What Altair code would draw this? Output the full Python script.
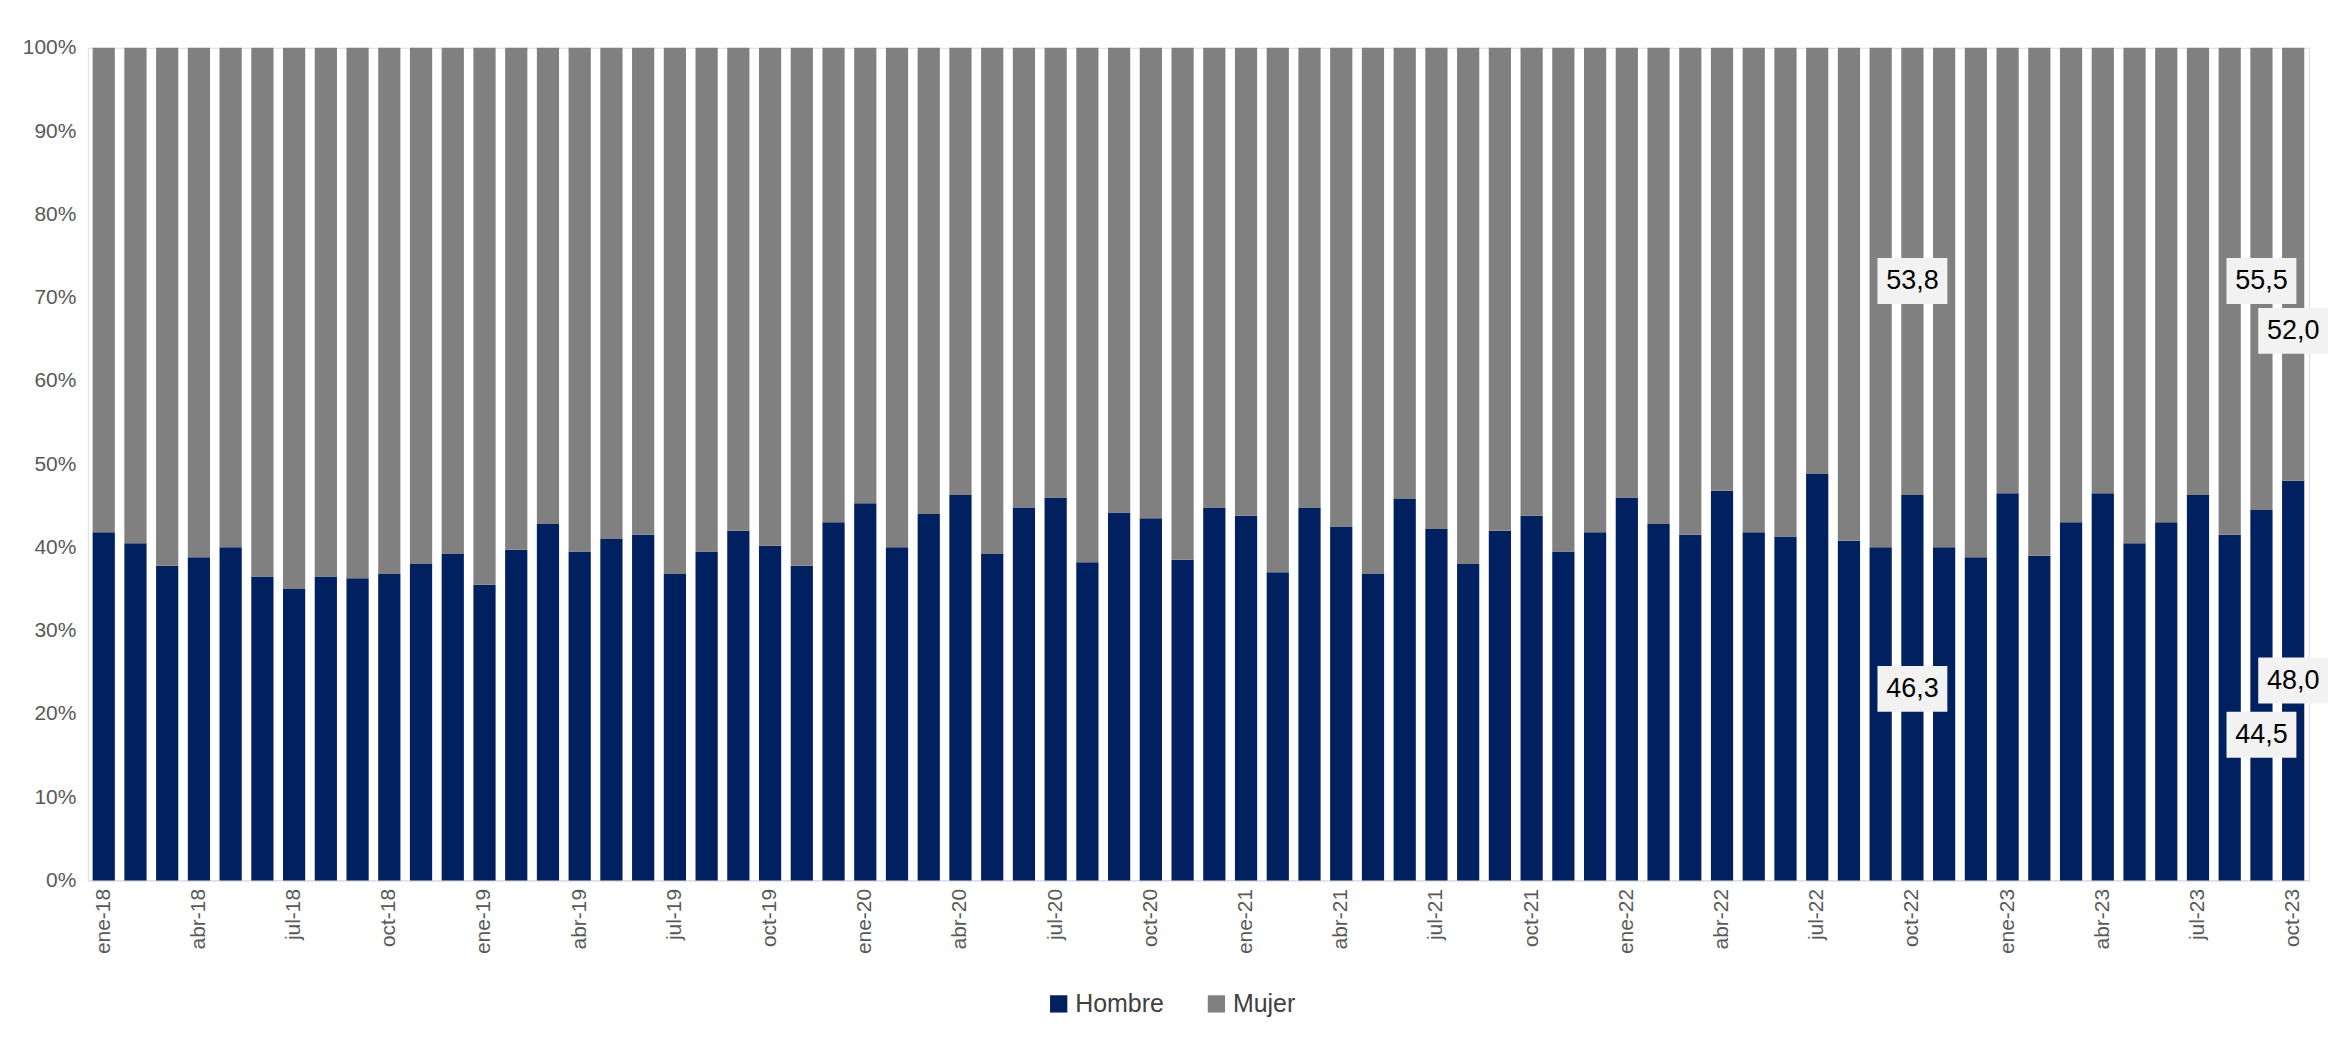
import pandas as pd
import altair as alt

meses = ["ene", "feb", "mar", "abr", "may", "jun", "jul", "ago", "sep", "oct", "nov", "dic"]
periodos = [f"{m}-{a}" for a in range(18, 24) for m in meses][:70]

hombre = [41.8, 40.5, 37.8, 38.8, 40.0, 36.5, 35.0, 36.5, 36.3, 36.8, 38.0, 39.2,
          35.5, 39.7, 42.8, 39.5, 41.0, 41.5, 36.8, 39.5, 42.0, 40.2, 37.8, 43.0,
          45.3, 40.0, 44.0, 46.3, 39.2, 44.8, 46.0, 38.2, 44.2, 43.5, 38.5, 44.8,
          43.8, 37.0, 44.8, 42.5, 36.8, 45.8, 42.2, 38.0, 42.0, 43.8, 39.5, 41.8,
          46.0, 42.8, 41.5, 46.8, 41.8, 41.3, 48.8, 40.8, 40.0, 46.3, 40.0, 38.8,
          46.5, 39.0, 43.0, 46.5, 40.5, 43.0, 46.3, 41.5, 44.5, 48.0]
mujer = [round(100 - h, 1) for h in hombre]

# etiquetas visibles en el gráfico
lab_periodo = ["oct-22", "oct-22", "sep-23", "sep-23", "oct-23", "oct-23"]
lab_valor = [46.3, 53.8, 44.5, 55.5, 48.0, 52.0]
lab_pos = [23.0, 72.0, 17.5, 72.0, 24.0, 66.0]

rows = []
for p, h, m in zip(periodos, hombre, mujer):
    rows.append({"periodo": p, "sexo": "Hombre", "valor": h, "orden": 0})
    rows.append({"periodo": p, "sexo": "Mujer", "valor": m, "orden": 1})
df = pd.DataFrame(rows)

labels = pd.DataFrame({"periodo": lab_periodo, "valor": lab_valor, "pos": lab_pos})
labels["txt"] = labels["valor"].map(lambda v: f"{v:.1f}".replace(".", ","))

x_enc = alt.X(
    "periodo:O",
    sort=periodos,
    title=None,
    scale=alt.Scale(paddingInner=0.3, paddingOuter=0.15),
    axis=alt.Axis(values=periodos[::3], labelAngle=-90, labelFontSize=21,
                  labelColor="#595959", ticks=False, domainColor="#d9d9d9",
                  labelPadding=8),
)

bars = alt.Chart(df).mark_bar().encode(
    x=x_enc,
    y=alt.Y("valor:Q", stack="normalize", title=None,
            axis=alt.Axis(format="%", values=[i / 10 for i in range(11)],
                          labelFontSize=21, labelColor="#595959", grid=False,
                          domain=False, ticks=False, labelPadding=12)),
    color=alt.Color("sexo:N", title=None,
                    scale=alt.Scale(domain=["Hombre", "Mujer"], range=["#002060", "#808080"]),
                    legend=alt.Legend(orient="none", direction="horizontal", legendX=960,
                                      legendY=945, labelFontSize=25, symbolType="square",
                                      symbolSize=300, labelColor="#404040", columnPadding=40)),
    order=alt.Order("orden:Q"),
)

ypos = alt.Y("pos:Q", axis=None, scale=alt.Scale(domain=[0, 100]))
boxes = alt.Chart(labels).mark_rect(width=70, height=46, color="#f2f2f2").encode(
    x=alt.X("periodo:O", sort=periodos), y=ypos,
)
texts = alt.Chart(labels).mark_text(fontSize=27, color="#000000").encode(
    x=alt.X("periodo:O", sort=periodos), y=ypos, text="txt:N",
)

chart = (
    alt.layer(bars, boxes, texts)
    .resolve_scale(y="independent")
    .properties(width=2225, height=834, padding={"left": 14, "top": 28, "right": 4, "bottom": 10})
    .configure_view(strokeWidth=0)
    .configure(font="Liberation Sans")
)

chart.save("out.html", embed_options={"renderer": "svg", "actions": False})
